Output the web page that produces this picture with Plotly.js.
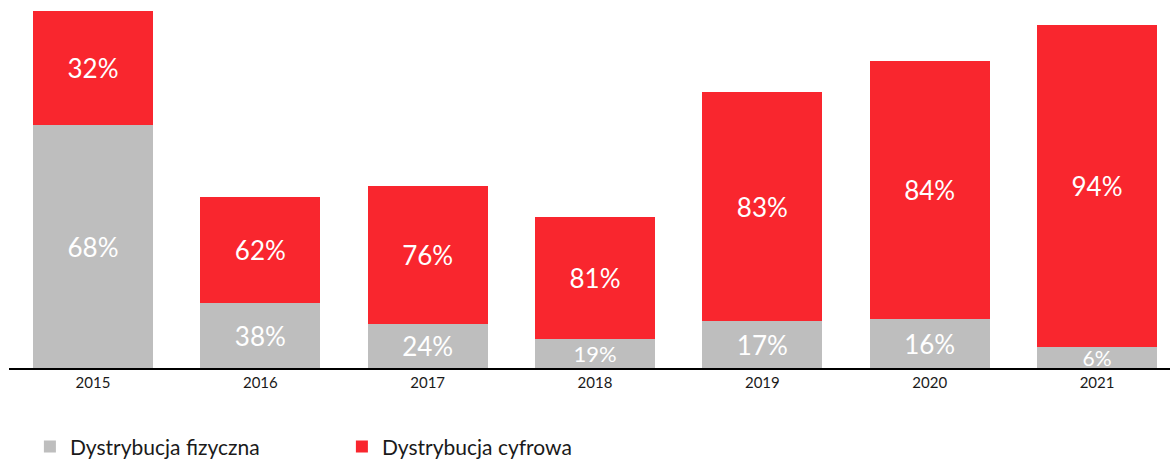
<!DOCTYPE html>
<html>
<head>
<meta charset="utf-8">
<script src="https://cdn.plot.ly/plotly-3.0.1.min.js"></script>
<style>
html,body{margin:0;padding:0;background:#fff;}
#chart{width:1170px;height:461px;}
</style>
</head>
<body>
<div id="chart"></div>
<script>
const years = ['2015','2016','2017','2018','2019','2020','2021'];
const physical = [243, 65, 44, 29, 47, 49, 21];
const digital = [114, 106, 138, 122, 229, 258, 322];
const physicalShare = ['68%','38%','24%','19%','17%','16%','6%'];
const digitalShare = ['32%','62%','76%','81%','83%','84%','94%'];

const FONT = 'Lato, "Open Sans", sans-serif';
// label sizes (style): smaller where the segment is thin
const physLabelSizes = [26, 26, 26, 22, 26, 26, 21];

const traces = [
  {
    type: 'bar', name: 'Dystrybucja fizyczna', x: years, y: physical,
    text: physicalShare, textposition: 'inside', insidetextanchor: 'middle',
    constraintext: 'none', cliponaxis: false,
    textfont: {family: FONT, size: physLabelSizes, color: '#ffffff'},
    marker: {color: '#bebebe'}, hoverinfo: 'none'
  },
  {
    type: 'bar', name: 'Dystrybucja cyfrowa', x: years, y: digital,
    text: digitalShare, textposition: 'inside', insidetextanchor: 'middle',
    constraintext: 'none',
    textfont: {family: FONT, size: 26, color: '#ffffff'},
    marker: {color: '#f9262e'}, hoverinfo: 'none'
  }
];

const layout = {
  width: 1170, height: 461,
  margin: {l: 9, r: 0, t: 0, b: 93, autoexpand: false},
  barmode: 'stack',
  bargap: 0.283,
  paper_bgcolor: '#ffffff', plot_bgcolor: '#ffffff',
  font: {family: FONT, color: '#1a1a1a'},
  xaxis: {
    type: 'category', range: [-0.502, 6.436], showline: true, linecolor: '#000000',
    linewidth: 2, ticks: '', showgrid: false, zeroline: false,
    tickfont: {family: FONT, size: 15, color: '#1a1a1a'}, fixedrange: true
  },
  yaxis: {
    range: [0, 368], visible: false, showgrid: false, zeroline: false, fixedrange: true
  },
  showlegend: true,
  legend: {
    orientation: 'h', x: 0.018, xanchor: 'left', y: -0.214, yanchor: 'middle',
    font: {family: FONT, size: 21, color: '#1a1a1a'},
    entrywidth: 267, entrywidthmode: 'pixels', traceorder: 'normal'
  }
};

Plotly.newPlot('chart', traces, layout, {displayModeBar: false, staticPlot: true});
</script>
</body>
</html>
